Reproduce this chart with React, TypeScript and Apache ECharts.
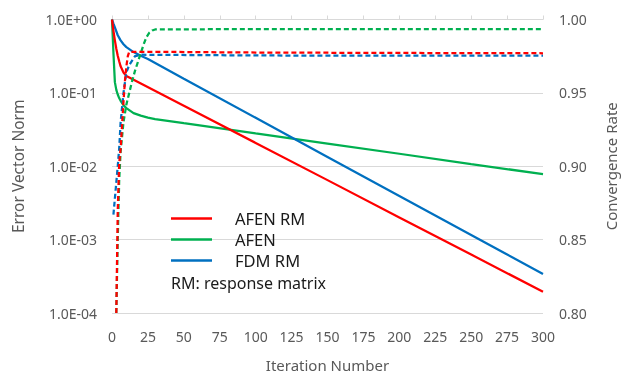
import React, { useEffect, useRef } from 'react';
import * as echarts from 'echarts';

// ---- data ----
const errTickLabels = ['1.0E-04', '1.0E-03', '1.0E-02', '1.0E-01', '1.0E+00'];

const afenRmErrIter = [0, 1, 2, 3, 4, 5, 6, 8, 10, 50, 100, 150, 200, 250, 300];
const afenRmErr = [1, 0.7, 0.52, 0.4, 0.32, 0.27, 0.23, 0.19, 0.17, 0.0668, 0.0208, 0.00647, 0.00201, 0.000626, 0.000195];

const afenErrIter = [0, 1, 2, 3, 4, 5, 6, 8, 10, 15, 20, 25, 30, 50, 100, 150, 200, 250, 300];
const afenErr = [1, 0.35, 0.14, 0.11, 0.095, 0.085, 0.078, 0.068, 0.062, 0.053, 0.049, 0.046, 0.044, 0.0386, 0.028, 0.0204, 0.0148, 0.0107, 0.0078];

const fdmRmErrIter = [0, 1, 2, 4, 6, 8, 10, 15, 20, 25, 50, 100, 150, 200, 250, 300];
const fdmRmErr = [1, 0.88, 0.78, 0.61, 0.52, 0.46, 0.42, 0.36, 0.32, 0.29, 0.156, 0.0458, 0.0134, 0.00394, 0.00116, 0.000339];

const afenRmRateIter = [3, 4, 5, 6, 7, 8, 9, 10, 11, 12, 25, 100, 200, 300];
const afenRmRate = [0.8, 0.87, 0.902, 0.912, 0.928, 0.944, 0.958, 0.968, 0.975, 0.978, 0.978, 0.9775, 0.9772, 0.977];

const afenRateIter = [3, 4, 5, 6, 8, 10, 12, 14, 16, 18, 20, 22, 24, 26, 28, 30, 100, 200, 300];
const afenRate = [0.8, 0.85, 0.89, 0.91, 0.93, 0.942, 0.95, 0.958, 0.965, 0.971, 0.977, 0.983, 0.988, 0.991, 0.9925, 0.9932, 0.9935, 0.9935, 0.9935];

const fdmRmRateIter = [1, 2, 3, 4, 5, 6, 8, 10, 12, 14, 16, 20, 100, 200, 300];
const fdmRmRate = [0.867, 0.878, 0.889, 0.9, 0.912, 0.93, 0.95, 0.964, 0.969, 0.972, 0.975, 0.976, 0.9755, 0.9753, 0.9753];

const RED = '#FF0000';
const GREEN = '#00B050';
const BLUE = '#0070C0';
const FONT = 'Noto Sans';

const zip = (xs: number[], ys: number[]) => xs.map((x, i) => [x, ys[i]]);

export default function App() {
  const ref = useRef<HTMLDivElement>(null);
  useEffect(() => {
    if (!ref.current) return;
    const chart = echarts.init(ref.current, undefined, { renderer: 'svg' });
    const solid = (name: string, color: string, data: number[][]) => ({
      name, type: 'line', yAxisIndex: 0, xAxisIndex: 0, data,
      symbol: 'none', showSymbol: false,
      lineStyle: { color, width: 2.25 }, itemStyle: { color },
    });
    const dashed = (name: string, color: string, data: number[][]) => ({
      name, type: 'line', yAxisIndex: 1, xAxisIndex: 0, data,
      symbol: 'none', showSymbol: false,
      lineStyle: { color, width: 2.25, type: [5, 3] }, itemStyle: { color },
    });
    chart.setOption({
      animation: false,
      textStyle: { fontFamily: FONT },
      grid: { left: 112, right: 78, top: 19.5, bottom: 62, outerBoundsMode: 'none', containLabel: false },
      legend: {
        orient: 'vertical', left: 171, top: 208.5, itemGap: 1, padding: 0,
        itemWidth: 41, itemHeight: 2.5, icon: 'rect',
        data: ['AFEN RM', 'AFEN', 'FDM RM'],
        textStyle: { fontSize: 16.5, color: '#1a1a1a', lineHeight: 20, padding: [0, 0, 0, 18], fontFamily: FONT },
      },
      graphic: [
        { type: 'text', left: 171, top: 275, style: { text: 'RM: response matrix', font: `16px "${FONT}"`, fill: '#1a1a1a' } },
      ],
      xAxis: [
        {
          type: 'value', min: 0, max: 300, interval: 25, position: 'bottom',
          name: 'Iteration Number', nameLocation: 'middle', nameGap: 44,
          nameTextStyle: { fontSize: 15, color: '#595959', fontFamily: FONT },
          axisLine: { show: false }, axisTick: { show: false }, splitLine: { show: false },
          axisLabel: { fontSize: 14, color: '#595959', margin: 16, fontFamily: FONT },
        },
        {
          type: 'value', min: 0, max: 300, interval: 25, position: 'top',
          axisLine: { show: true, lineStyle: { color: '#d9d9d9', width: 1 } },
          axisTick: { show: true, length: 4, lineStyle: { color: '#d9d9d9' } },
          axisLabel: { show: false }, splitLine: { show: false },
        },
      ],
      yAxis: [
        {
          type: 'log', logBase: 10, min: 1e-4, max: 1, position: 'left',
          name: 'Error Vector Norm', nameLocation: 'middle', nameGap: 86, nameRotate: 90,
          nameTextStyle: { fontSize: 15.5, color: '#595959', fontFamily: FONT },
          axisLine: { show: false }, axisTick: { show: false },
          splitLine: { show: true, lineStyle: { color: '#d9d9d9', width: 1 } },
          axisLabel: {
            fontSize: 14, color: '#595959', margin: 15, fontFamily: FONT,
            formatter: (v: number) => errTickLabels[Math.round(Math.log10(v)) + 4] ?? '',
          },
        },
        {
          type: 'value', min: 0.8, max: 1.0, interval: 0.05, position: 'right',
          name: 'Convergence Rate', nameLocation: 'middle', nameGap: 60, nameRotate: 90,
          nameTextStyle: { fontSize: 15, color: '#595959', fontFamily: FONT },
          axisLine: { show: false }, axisTick: { show: false }, splitLine: { show: false },
          axisLabel: {
            fontSize: 14, color: '#595959', margin: 16, fontFamily: FONT,
            formatter: (v: number) => v.toFixed(2),
          },
        },
      ],
      series: [
        solid('AFEN', GREEN, zip(afenErrIter, afenErr)),
        solid('FDM RM', BLUE, zip(fdmRmErrIter, fdmRmErr)),
        solid('AFEN RM', RED, zip(afenRmErrIter, afenRmErr)),
        dashed('FDM RM rate', BLUE, zip(fdmRmRateIter, fdmRmRate)),
        dashed('AFEN rate', GREEN, zip(afenRateIter, afenRate)),
        dashed('AFEN RM rate', RED, zip(afenRmRateIter, afenRmRate)),
      ],
    });
    return () => chart.dispose();
  }, []);
  return <div ref={ref} style={{ position: 'fixed', left: 0, top: 0, width: 621, height: 375 }} />;
}
